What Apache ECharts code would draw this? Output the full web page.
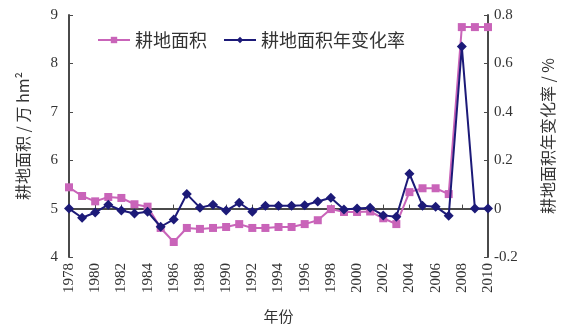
<!DOCTYPE html>
<html>
<head>
<meta charset="utf-8">
<script src="https://cdn.jsdelivr.net/npm/echarts@6/dist/echarts.min.js"></script>
<style>
html,body{margin:0;padding:0;background:#fff;}
#chart{width:564px;height:329px;}
</style>
</head>
<body>
<div id="chart"></div>
<script>
// Years 1978-2010
const years = [];
for (let y = 1978; y <= 2010; y++) years.push(String(y));

// Cultivated land area (万 hm²)
const landArea = [
  5.44, 5.26, 5.15, 5.24, 5.22, 5.09, 5.04, 4.60, 4.31, 4.60,
  4.58, 4.60, 4.62, 4.68, 4.60, 4.60, 4.62, 4.62, 4.68, 4.76,
  4.99, 4.93, 4.93, 4.94, 4.80, 4.68, 5.34, 5.42, 5.42, 5.30,
  8.75, 8.75, 8.75
];

// Annual change rate of cultivated land area (%)
const changeRate = [
  0.000, -0.038, -0.016, 0.016, -0.008, -0.020, -0.013, -0.075, -0.045, 0.060,
  0.004, 0.016, -0.008, 0.024, -0.013, 0.012, 0.012, 0.012, 0.014, 0.029,
  0.045, -0.004, 0.000, 0.004, -0.028, -0.034, 0.144, 0.012, 0.008, -0.030,
  0.670, 0.000, 0.000
];

const seriesNames = ['耕地面积', '耕地面积年变化率'];
const leftTicks = { min: 4, max: 9, interval: 1 };
const rightTicks = { min: -0.2, max: 0.8, interval: 0.2 };

const pink = '#c964b9';
const navy = '#1c1a78';
const axisColor = '#4a4a4a';
const numFont = '"Liberation Serif", "Times New Roman", serif';
const cjkFont = '"Noto Sans CJK SC", sans-serif';

const chart = echarts.init(document.getElementById('chart'), null, { renderer: 'canvas' });

chart.setOption({
  animation: false,
  backgroundColor: '#fff',
  grid: { left: 69, right: 75, top: 15, bottom: 71 },
  legend: {
    left: 92, top: 26,
    itemWidth: 32, itemHeight: 8, itemGap: 16,
    textStyle: { fontFamily: cjkFont, fontSize: 18, color: '#333' },
    data: seriesNames
  },
  xAxis: {
    type: 'category',
    data: years,
    boundaryGap: false,
    name: '年份',
    nameLocation: 'middle',
    nameGap: 52,
    nameTextStyle: { fontFamily: cjkFont, fontSize: 15, color: '#333' },
    axisLine: { lineStyle: { color: axisColor, width: 2 } },
    axisTick: { inside: true, interval: 1, length: 4, lineStyle: { color: axisColor } },
    axisLabel: { interval: 1, rotate: 90, margin: 6, fontFamily: numFont, fontSize: 15, color: '#333' },
    splitLine: { show: false }
  },
  yAxis: [
    {
      type: 'value',
      min: leftTicks.min, max: leftTicks.max, interval: leftTicks.interval,
      name: '耕地面积 / 万 hm²',
      nameLocation: 'middle',
      nameRotate: 90,
      nameGap: 38,
      nameTextStyle: { fontFamily: cjkFont, fontSize: 16, color: '#333' },
      axisLine: { show: true, lineStyle: { color: axisColor, width: 2 } },
      axisTick: { show: true, inside: true, length: 4, lineStyle: { color: axisColor } },
      axisLabel: { margin: 11, fontFamily: numFont, fontSize: 15, color: '#333' },
      splitLine: { show: false }
    },
    {
      type: 'value',
      position: 'right',
      min: rightTicks.min, max: rightTicks.max, interval: rightTicks.interval,
      name: '耕地面积年变化率 / %',
      nameLocation: 'middle',
      nameRotate: 90,
      nameGap: 52,
      nameTextStyle: { fontFamily: cjkFont, fontSize: 16, color: '#333' },
      axisLine: { show: true, lineStyle: { color: axisColor, width: 2 } },
      axisTick: { show: true, inside: true, length: 4, lineStyle: { color: axisColor } },
      axisLabel: {
        margin: 6, fontFamily: numFont, fontSize: 15, color: '#333',
        formatter: v => (Math.abs(v) < 1e-9 ? '0' : v.toFixed(1))
      },
      splitLine: { show: false }
    }
  ],
  series: [
    {
      name: seriesNames[0],
      type: 'line',
      yAxisIndex: 0,
      data: landArea,
      symbol: 'rect',
      symbolSize: 8,
      showAllSymbol: true,
      lineStyle: { color: pink, width: 2 },
      itemStyle: { color: pink },
      z: 2
    },
    {
      name: seriesNames[1],
      type: 'line',
      yAxisIndex: 1,
      data: changeRate,
      symbol: 'diamond',
      symbolSize: 10,
      showAllSymbol: true,
      lineStyle: { color: navy, width: 2 },
      itemStyle: { color: navy },
      z: 3
    }
  ]
});
</script>
</body>
</html>
